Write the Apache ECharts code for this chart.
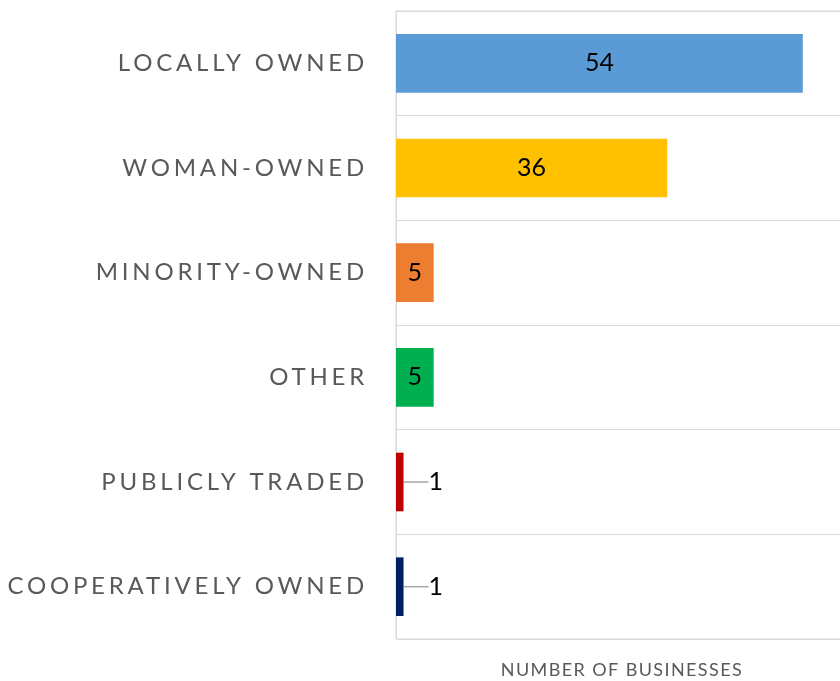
<!DOCTYPE html>
<html>
<head>
<meta charset="utf-8">
<script src="https://cdn.jsdelivr.net/npm/echarts@6/dist/echarts.min.js"></script>
<style>
    html, body { margin: 0; padding: 0; background: #fff; }
    #chart { width: 840px; height: 681px; }
</style>
</head>
<body>
<div id="chart"></div>
<script>
// data
const categories = ["LOCALLY OWNED", "WOMAN-OWNED", "MINORITY-OWNED", "OTHER", "PUBLICLY TRADED", "COOPERATIVELY OWNED"];
const values = [54, 36, 5, 5, 1, 1];
const barColors = ["#5B9BD5", "#FFC000", "#ED7D31", "#00B050", "#C00000", "#002060"];
const axisTitle = "NUMBER OF BUSINESSES";

// the labels are tracked out; canvas has letterSpacing, pick it by font size
const spacingBySize = { "24px": "3.8px", "18px": "1.4px" };
["fillText", "strokeText", "measureText"].forEach(function (fn) {
    const orig = CanvasRenderingContext2D.prototype[fn];
    CanvasRenderingContext2D.prototype[fn] = function () {
        const m = /(\d+px)/.exec(this.font);
        this.letterSpacing = (m && spacingBySize[m[1]]) || "0px";
        return orig.apply(this, arguments);
    };
});

const chart = echarts.init(document.getElementById("chart"));

const option = {
    animation: false,
    grid: {
        show: true,
        left: 396,
        top: 11,
        width: 452,
        height: 628,
        outerBoundsMode: "none",
        borderColor: "#D9D9D9",
        borderWidth: 1,
    },
    xAxis: {
        type: "value",
        min: 0,
        max: 60,
        name: axisTitle,
        nameLocation: "middle",
        nameGap: 21,
        nameTextStyle: { color: "#595959", fontSize: 18, fontFamily: "Lato" },
        axisLabel: { show: false },
        axisLine: { show: false },
        axisTick: { show: false },
        splitLine: { show: false },
    },
    yAxis: {
        type: "category",
        inverse: true,
        data: categories,
        axisLine: { show: true, lineStyle: { color: "#D9D9D9" } },
        axisTick: { show: false },
        axisLabel: { color: "#595959", fontSize: 24, fontFamily: "Lato", margin: 28 },
        splitLine: { show: true, lineStyle: { color: "#D9D9D9", width: 1 } },
    },
    series: [
        {
            type: "bar",
            barWidth: "56%",
            data: values.map(function (v, i) {
                const item = { value: v, itemStyle: { color: barColors[i] } };
                if (v <= 2) item.label = { position: "right", distance: 4 };
                return item;
            }),
            label: {
                show: true,
                position: "inside",
                color: "#000",
                fontSize: 25,
                fontFamily: "Lato",
            },
            labelLayout: function (params) {
                return values[params.dataIndex] > 2 ? {} : { dx: 21 };
            },
            labelLine: { show: true, lineStyle: { color: "#A6A6A6", width: 1.5 } },
        },
    ],
};

chart.setOption(option);
</script>
</body>
</html>
